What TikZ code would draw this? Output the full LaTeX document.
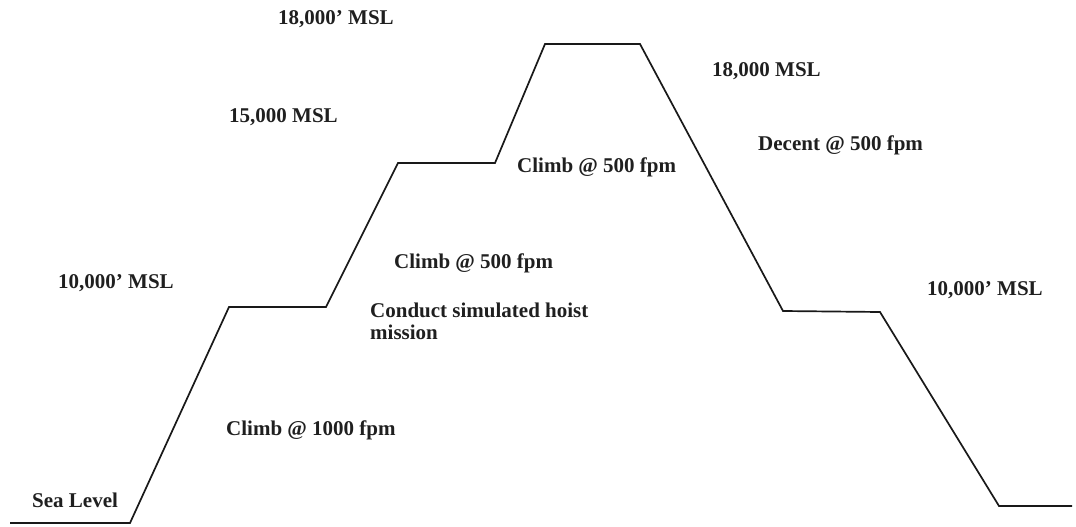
\documentclass[tikz,border=0pt]{standalone}
\usepackage{fontspec}
\setmainfont{Liberation Serif}
\begin{document}
\begin{tikzpicture}[x=1pt,y=-1pt,
  lbl/.style={anchor=base west,inner sep=0pt,text=black!88,
    font=\fontsize{21}{25}\selectfont\bfseries},
  profile/.style={line width=1.7pt,line join=miter,black!90}]
\useasboundingbox (0,0) rectangle (1076,527);
% profile vertices
\coordinate (p0) at (10,523);
\coordinate (p1) at (130,523);
\coordinate (p2) at (229,307);
\coordinate (p3) at (326,307);
\coordinate (p4) at (398,163);
\coordinate (p5) at (495,163);
\coordinate (p6) at (545,44);
\coordinate (p7) at (640,44);
\coordinate (p8) at (783,311);
\coordinate (p9) at (880,312);
\coordinate (p10) at (999,506);
\coordinate (p11) at (1072,506);
\draw[profile] (p0) -- (p1) -- (p2) -- (p3) -- (p4) -- (p5) -- (p6) -- (p7)
  -- (p8) -- (p9) -- (p10) -- (p11);
% labels
\node[lbl] (t18a) at (278,25) {18,000’ MSL};
\node[lbl] (t15) at (229,122) {15,000 MSL};
\node[lbl] (t10a) at (58,288) {10,000’ MSL};
\node[lbl] (tsea) at (32,507) {Sea Level};
\node[lbl] (c1000) at (226,435) {Climb @ 1000 fpm};
\node[lbl] (c500a) at (394,268) {Climb @ 500 fpm};
\node[lbl] (hoist1) at (370,317) {Conduct simulated hoist};
\node[lbl] (hoist2) at (370,339) {mission};
\node[lbl] (c500b) at (517,172) {Climb @ 500 fpm};
\node[lbl] (t18b) at (712,77) {18,000 MSL};
\node[lbl] (dec) at (758,150) {Decent @ 500 fpm};
\node[lbl] (t10b) at (927,295) {10,000’ MSL};
\end{tikzpicture}
\end{document}
